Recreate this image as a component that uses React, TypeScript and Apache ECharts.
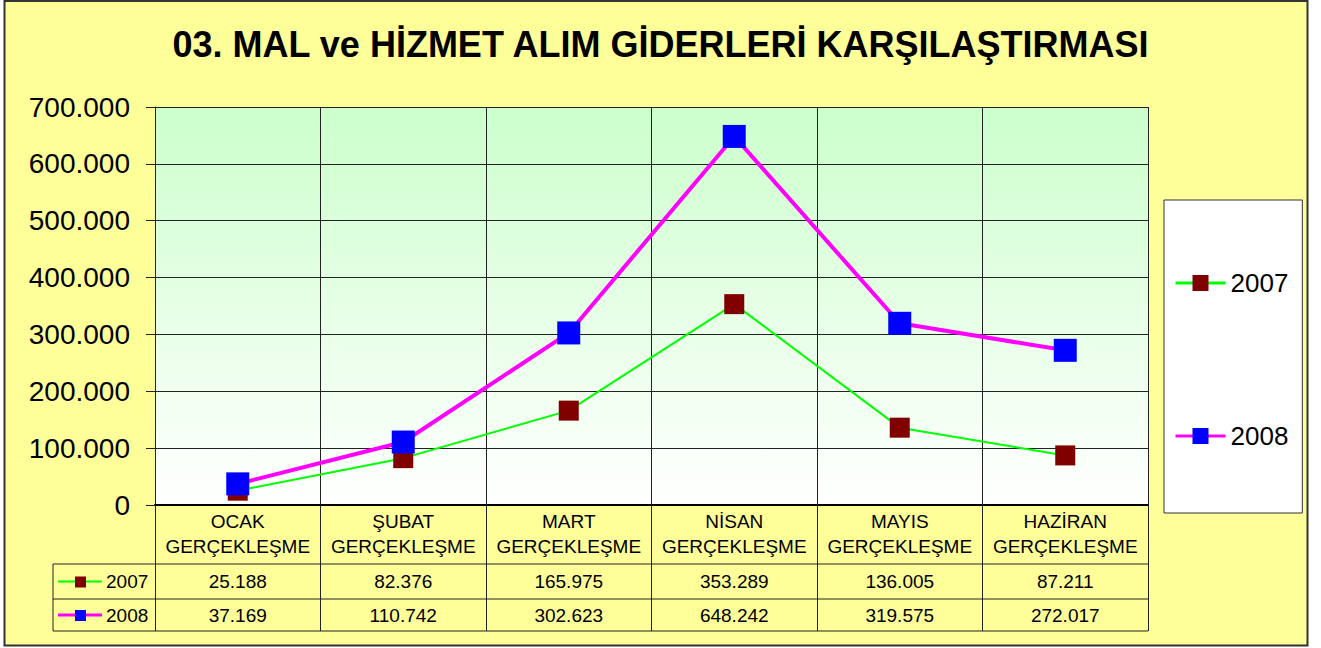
import React, { useEffect, useRef } from "react";
import * as echarts from "echarts";

const titleText = "03. MAL ve HİZMET ALIM GİDERLERİ KARŞILAŞTIRMASI";
const categories = [
  "OCAK\nGERÇEKLEŞME",
  "ŞUBAT\nGERÇEKLEŞME",
  "MART\nGERÇEKLEŞME",
  "NİSAN\nGERÇEKLEŞME",
  "MAYIS\nGERÇEKLEŞME",
  "HAZİRAN\nGERÇEKLEŞME",
];
const seriesNames = ["2007", "2008"];
const values2007 = [25188, 82376, 165975, 353289, 136005, 87211];
const values2008 = [37169, 110742, 302623, 648242, 319575, 272017];
const yMin = 0;
const yMax = 700000;
const yInterval = 100000;

const FONT = "Arial, 'Liberation Sans', sans-serif";
const lineColors = ["#00FF00", "#FF00FF"];
const markerColors = ["#800000", "#0000FF"];
const lineWidths = [2, 4];
const markerSizes = [20, 23];

const fmt = (n: number) => String(n).replace(/\B(?=(\d{3})+(?!\d))/g, ".");

export default function App() {
  const ref = useRef<HTMLDivElement>(null);
  useEffect(() => {
    if (!ref.current) return;
    const chart = echarts.init(ref.current, undefined, { renderer: "svg" });
    const seriesData = [values2007, values2008];
    const grid = { left: 155, top: 107, width: 993, height: 398 };
    chart.setOption({
      animation: false,
      backgroundColor: "transparent",
      title: {
        text: titleText,
        left: "center",
        top: 26,
        padding: 0,
        textStyle: { fontFamily: FONT, fontSize: 36, fontWeight: "bold", color: "#000" },
      },
      legend: {
        orient: "vertical",
        left: 1164,
        top: 200,
        itemWidth: 50,
        itemHeight: 20,
        itemGap: 127,
        padding: [70, 14, 64, 10],
        backgroundColor: "#fff",
        borderColor: "#333",
        borderWidth: 1,
        textStyle: { fontFamily: FONT, fontSize: 26, color: "#000" },
        data: seriesNames.map((name) => ({ name, lineStyle: { width: 3 } })),
      },
      grid: {
        ...grid,
        show: true,
        borderWidth: 0,
        backgroundColor: {
          type: "linear",
          x: 0,
          y: 0,
          x2: 0,
          y2: 1,
          colorStops: [
            { offset: 0, color: "#CCFFCC" },
            { offset: 1, color: "#FFFFFF" },
          ],
        },
      },
      xAxis: {
        type: "category",
        data: categories,
        boundaryGap: true,
        axisLine: { show: true, lineStyle: { color: "#000", width: 2 } },
        axisTick: { show: true, interval: 0, length: 126, lineStyle: { color: "#222", width: 1 } },
        axisLabel: { interval: 0, fontFamily: FONT, fontSize: 19, lineHeight: 25, color: "#000", margin: 4 },
        splitLine: { show: true, interval: 0, lineStyle: { color: "#222", width: 1 } },
      },
      yAxis: {
        type: "value",
        min: yMin,
        max: yMax,
        interval: yInterval,
        axisLine: { show: true, lineStyle: { color: "#222", width: 1 } },
        axisTick: { show: true, length: 9, lineStyle: { color: "#222" } },
        axisLabel: { fontFamily: FONT, fontSize: 28, color: "#000", margin: 25, formatter: (v: number) => fmt(v) },
        splitLine: { show: true, lineStyle: { color: "#222", width: 1 } },
      },
      series: seriesNames.map((name, i) => ({
        name,
        type: "line",
        data: seriesData[i],
        symbol: "rect",
        symbolSize: markerSizes[i],
        lineStyle: { color: lineColors[i], width: lineWidths[i] },
        itemStyle: { color: markerColors[i] },
        z: 2 + i,
      })),
    });

    // data table built from arrays, positioned via axis conversion
    const c0 = chart.convertToPixel({ xAxisIndex: 0 }, 0) as number;
    const c1 = chart.convertToPixel({ xAxisIndex: 0 }, 1) as number;
    const bw = c1 - c0;
    const plotLeft = c0 - bw / 2;
    const plotRight = plotLeft + bw * categories.length;
    const plotBottom = chart.convertToPixel({ yAxisIndex: 0 }, 0) as number;
    const headerBottom = plotBottom + 59;
    const rowH = [35, 32];
    const tableLeft = 53;
    const graphics: any[] = [
      {
        type: "rect",
        z: -100,
        shape: { x: 4.5, y: 1, width: 1303, height: 644.5 },
        style: { fill: "#FFFF99", stroke: "#333", lineWidth: 2 },
      },
    ];
    let y = headerBottom;
    graphics.push({
      type: "line",
      shape: { x1: tableLeft, y1: y, x2: plotRight, y2: y },
      style: { stroke: "#222", lineWidth: 1 },
    });
    seriesNames.forEach((name, r) => {
      const top = y;
      const bottom = y + rowH[r];
      const mid = (top + bottom) / 2;
      graphics.push({
        type: "line",
        shape: { x1: tableLeft, y1: bottom, x2: plotRight, y2: bottom },
        style: { stroke: "#222", lineWidth: 1 },
      });
      graphics.push({
        type: "line",
        shape: { x1: 58, y1: mid, x2: 102, y2: mid },
        style: { stroke: lineColors[r], lineWidth: lineWidths[r] === 4 ? 3 : 2 },
      });
      graphics.push({
        type: "rect",
        shape: { x: 75, y: mid - 5, width: 11, height: 11 },
        style: { fill: markerColors[r] },
      });
      graphics.push({
        type: "text",
        style: { text: name, x: 106, y: mid, verticalAlign: "middle", align: "left", font: `19px ${FONT}`, fill: "#000" },
      });
      seriesData[r].forEach((v, i) => {
        const cx = chart.convertToPixel({ xAxisIndex: 0 }, i) as number;
        graphics.push({
          type: "text",
          style: { text: fmt(v), x: cx, y: mid, verticalAlign: "middle", align: "center", font: `19px ${FONT}`, fill: "#000" },
        });
      });
      y = bottom;
    });
    graphics.push({
      type: "line",
      shape: { x1: tableLeft, y1: headerBottom, x2: tableLeft, y2: y },
      style: { stroke: "#222", lineWidth: 1 },
    });
    chart.setOption({ graphic: graphics });
    return () => chart.dispose();
  }, []);
  return (
    <div
      ref={ref}
      style={{ position: "absolute", left: 0, top: 0, width: 1321, height: 648, background: "#fff" }}
    />
  );
}
